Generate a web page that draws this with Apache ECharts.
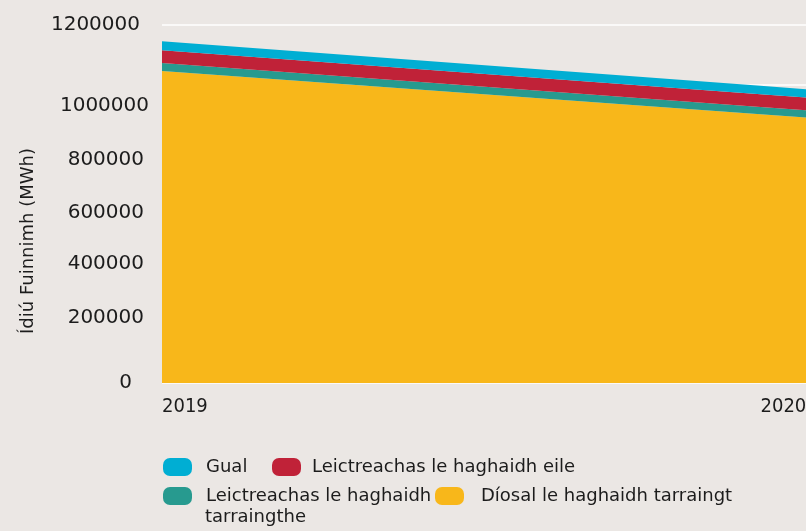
<!DOCTYPE html>
<html>
<head>
<meta charset="utf-8">
<script src="https://cdn.jsdelivr.net/npm/echarts@6/dist/echarts.min.js"></script>
<style>
  html, body { margin: 0; padding: 0; background: #ebe7e4; }
  #chart { width: 806px; height: 531px; }
</style>
</head>
<body>
<div id="chart"></div>
<script>
// data
const years = ['2019', '2020', '2021'];
const diesel = [1046000, 900800, 755700];
const elecTraction = [26800, 24700, 22500];
const elecOther = [42500, 42500, 42500];
const coal = [30100, 28000, 25800];
const yTicks = [0, 200000, 400000, 600000, 800000, 1000000, 1200000];

const names = {
  coal: 'Gual',
  other: 'Leictreachas le haghaidh eile',
  traction: 'Leictreachas le haghaidh tarraingthe',
  diesel: 'Díosal le haghaidh tarraingt'
};
const colors = {
  coal: '#00aed3',
  other: '#c02238',
  traction: '#279a8f',
  diesel: '#f8b71a'
};

const textColor = '#1c1c1c';
const font = 'DejaVu Sans';

// the tick labels in the original sit a little off their gridlines
const labelPad = [
  [0, 17, 0, 0],
  [0, 5, 12, 0],
  [0, 5, 0, 0],
  [17, 5, 0, 0],
  [30, 5, 0, 0],
  [42, 0, 0, 0],
  [0, 9, 0, 0]
];
const rich = {};
labelPad.forEach((p, i) => {
  rich['p' + i] = { padding: p, fontFamily: font, fontSize: 20, color: textColor };
});

const icon = 'path://M7,0 H22 A7,7 0 0 1 29,7 V11 A7,7 0 0 1 22,18 H7 A7,7 0 0 1 0,11 V7 A7,7 0 0 1 7,0 Z';

const legendBase = {
  orient: 'horizontal',
  padding: 0,
  itemWidth: 29,
  itemHeight: 18,
  icon: icon,
  selectedMode: false,
  textStyle: { fontFamily: font, fontSize: 18, color: textColor }
};
const legendItem = (name, left, top, padLeft, extra) => Object.assign({}, legendBase, {
  left: left,
  top: top,
  data: [name],
  textStyle: Object.assign({}, legendBase.textStyle, { padding: [0, 0, 0, padLeft] })
}, extra || {});

const chart = echarts.init(document.getElementById('chart'));

const makeSeries = (key, values) => ({
  name: names[key],
  type: 'line',
  stack: 'total',
  showSymbol: false,
  symbol: 'none',
  lineStyle: { width: 0 },
  itemStyle: { color: colors[key] },
  areaStyle: { color: colors[key], opacity: 1 },
  data: values
});

chart.setOption({
  backgroundColor: '#ebe7e4',
  animation: false,
  grid: { left: 162, top: 25, width: 1197, bottom: 148, outerBoundsMode: 'none', containLabel: false },
  legend: [
    legendItem(names.coal, 163, 458, 9),
    legendItem(names.other, 272, 458, 6),
    legendItem(names.traction, 163, 487, 9, { formatter: () => 'Leictreachas le haghaidh' }),
    legendItem(names.diesel, 435, 487, 12)
  ],
  graphic: [{
    type: 'text',
    left: 205,
    top: 508,
    style: { text: 'tarraingthe', fontFamily: font, fontSize: 18, fill: textColor }
  }],
  xAxis: {
    type: 'category',
    data: years,
    boundaryGap: false,
    axisLine: { show: false },
    axisTick: { show: false },
    splitLine: { show: false },
    axisLabel: {
      interval: 0,
      align: 'left',
      margin: 14,
      fontFamily: 'DejaVu Sans Condensed',
      fontSize: 20,
      color: textColor
    }
  },
  yAxis: {
    type: 'value',
    min: 0,
    max: 1200000,
    interval: 200000,
    name: 'Ídiú Fuinnimh (MWh)',
    nameLocation: 'middle',
    nameGap: 125,
    nameTextStyle: { fontFamily: font, fontSize: 18, color: textColor, padding: [0, 74, 0, 0] },
    axisLine: { show: false },
    axisTick: { show: false },
    splitLine: { show: true, lineStyle: { color: '#ffffff', width: 1.5 } },
    axisLabel: {
      margin: 13,
      align: 'right',
      fontFamily: font,
      fontSize: 20,
      color: textColor,
      rich: rich,
      formatter: v => '{p' + yTicks.indexOf(v) + '|' + v + '}'
    }
  },
  series: [
    makeSeries('diesel', diesel),
    makeSeries('traction', elecTraction),
    makeSeries('other', elecOther),
    makeSeries('coal', coal)
  ]
});
</script>
</body>
</html>
